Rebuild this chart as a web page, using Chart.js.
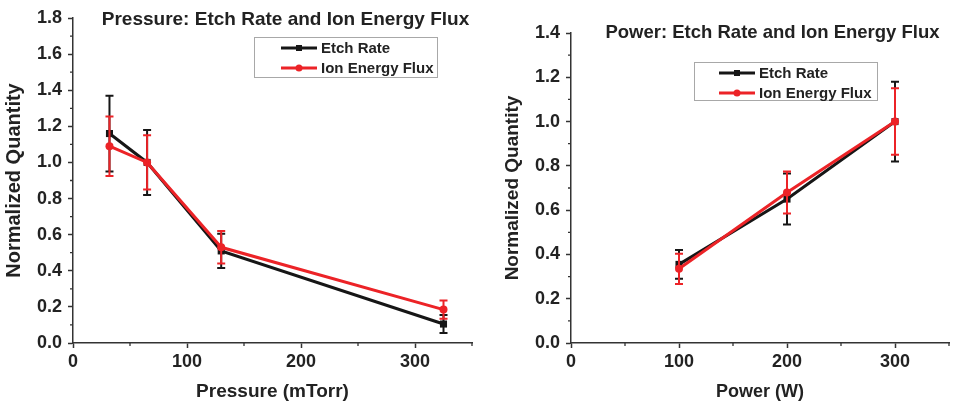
<!DOCTYPE html>
<html>
<head>
<meta charset="utf-8">
<script src="https://cdn.jsdelivr.net/npm/chart.js@4/dist/chart.umd.min.js"></script>
<style>
  html, body { margin: 0; padding: 0; background: #fff; }
  #wrap { position: relative; width: 954px; height: 404px; overflow: hidden; }
  canvas { position: absolute; top: 0; }
  #pressureChart { left: 0; }
  #powerChart { left: 477px; }
</style>
</head>
<body>
<div id="wrap">
  <canvas id="pressureChart" width="477" height="404"></canvas>
  <canvas id="powerChart" width="477" height="404"></canvas>
</div>
<script>
// ---- data: pressure sweep ----
const pressure = [32, 65, 130, 325];
const etchVsPressure = [1.16, 1.00, 0.51, 0.105];
const etchVsPressureErr = [0.21, 0.18, 0.095, 0.05];
const fluxVsPressure = [1.09, 1.00, 0.53, 0.185];
const fluxVsPressureErr = [0.165, 0.15, 0.09, 0.05];

// ---- data: power sweep ----
const power = [100, 200, 300];
const etchVsPower = [0.355, 0.65, 1.00];
const etchVsPowerErr = [0.065, 0.115, 0.18];
const fluxVsPower = [0.335, 0.68, 1.00];
const fluxVsPowerErr = [0.068, 0.095, 0.15];

const seriesNames = ['Etch Rate', 'Ion Energy Flux'];
const pressureTitle = 'Pressure: Etch Rate and Ion Energy Flux';
const powerTitle = 'Power: Etch Rate and Ion Energy Flux';
const pressureAxisTitle = 'Pressure (mTorr)';
const powerAxisTitle = 'Power (W)';
const yAxisTitle = 'Normalized Quantity';

const FONT = '"Liberation Sans", Arial, Helvetica, sans-serif';
const BLACK = '#161616';
const RED = '#ec2327';
const AXIS = '#333333';
const TEXT = '#222222';

const toPoints = (xs, ys) => xs.map((x, i) => ({ x, y: ys[i] }));

// vertical error bars with caps, drawn right after each dataset
const errorBarPlugin = {
  id: 'errorBars',
  afterDatasetDraw(chart, args) {
    const ds = chart.data.datasets[args.index];
    if (!ds.errorBars) return;
    const { ctx } = chart;
    const yScale = chart.scales.y;
    const cap = 4;
    ctx.save();
    ctx.strokeStyle = ds.borderColor;
    ctx.lineWidth = 2;
    args.meta.data.forEach((pt, i) => {
      const v = ds.data[i].y;
      const e = ds.errorBars[i];
      const yTop = yScale.getPixelForValue(v + e);
      const yBot = yScale.getPixelForValue(v - e);
      const x = pt.x;
      ctx.beginPath();
      ctx.moveTo(x, yTop); ctx.lineTo(x, yBot);
      ctx.moveTo(x - cap, yTop); ctx.lineTo(x + cap, yTop);
      ctx.moveTo(x - cap, yBot); ctx.lineTo(x + cap, yBot);
      ctx.stroke();
    });
    ctx.restore();
  }
};

// short minor ticks halfway between the labelled ones
const minorTickPlugin = {
  id: 'minorTicks',
  afterDraw(chart) {
    const { ctx } = chart;
    const len = 3;
    ctx.save();
    ctx.strokeStyle = AXIS;
    ctx.lineWidth = 1.3;
    ['x', 'y'].forEach(id => {
      const s = chart.scales[id];
      const vals = s.ticks.map(t => t.value);
      if (vals.length < 2) return;
      const step = vals[1] - vals[0];
      ctx.beginPath();
      for (let v = vals[0] + step / 2; v <= s.max + 1e-9; v += step) {
        const p = s.getPixelForValue(v);
        if (id === 'x') {
          ctx.moveTo(p, s.top); ctx.lineTo(p, s.top + len);
        } else {
          ctx.moveTo(s.right, p); ctx.lineTo(s.right - len, p);
        }
      }
      ctx.stroke();
    });
    ctx.restore();
  }
};

// panel heading drawn over the plot
const panelTitlePlugin = {
  id: 'panelTitle',
  afterDraw(chart, args, opts) {
    const { ctx } = chart;
    ctx.save();
    ctx.font = `bold ${opts.size}px ${FONT}`;
    ctx.fillStyle = TEXT;
    ctx.textAlign = 'center';
    ctx.textBaseline = 'alphabetic';
    ctx.fillText(opts.text, opts.x, opts.y);
    ctx.restore();
  }
};

// boxed legend sitting inside the plot
const boxLegendPlugin = {
  id: 'boxLegend',
  afterDraw(chart, args, opts) {
    const { ctx } = chart;
    const { x, y, w, h } = opts;
    ctx.save();
    ctx.strokeStyle = '#a8a8a8';
    ctx.lineWidth = 1;
    ctx.strokeRect(x + 0.5, y + 0.5, w, h);
    ctx.font = `bold 15px ${FONT}`;
    ctx.textBaseline = 'middle';
    ctx.textAlign = 'left';
    const rowH = 20;
    const lineX0 = x + opts.inset;
    const lineX1 = lineX0 + 36;
    chart.data.datasets.forEach((ds, i) => {
      const cy = y + 11 + i * rowH;
      ctx.strokeStyle = ds.borderColor;
      ctx.lineWidth = 3;
      ctx.beginPath();
      ctx.moveTo(lineX0, cy); ctx.lineTo(lineX1, cy);
      ctx.stroke();
      ctx.fillStyle = ds.borderColor;
      const mx = (lineX0 + lineX1) / 2;
      if (ds.pointStyle === 'rect') {
        ctx.fillRect(mx - 3, cy - 3, 6, 6);
      } else {
        ctx.beginPath(); ctx.arc(mx, cy, 3.5, 0, Math.PI * 2); ctx.fill();
      }
      ctx.fillStyle = TEXT;
      ctx.fillText(ds.label, lineX1 + 4, cy + 1);
    });
    ctx.restore();
  }
};

function makeDatasets(xs, etch, etchErr, flux, fluxErr) {
  return [
    {
      label: seriesNames[0],
      data: toPoints(xs, etch),
      errorBars: etchErr,
      borderColor: BLACK,
      backgroundColor: BLACK,
      borderWidth: 3,
      pointStyle: 'rect',
      pointRadius: 5,
      pointBorderWidth: 0,
      order: 2
    },
    {
      label: seriesNames[1],
      data: toPoints(xs, flux),
      errorBars: fluxErr,
      borderColor: RED,
      backgroundColor: RED,
      borderWidth: 3,
      pointStyle: 'circle',
      pointRadius: 4,
      pointBorderWidth: 0,
      order: 1
    }
  ];
}

function makeOptions(cfg) {
  return {
    responsive: false,
    animation: false,
    layout: { padding: { left: 0, right: cfg.padRight, top: cfg.padTop, bottom: 0 } },
    plugins: {
      legend: { display: false },
      tooltip: { enabled: false },
      panelTitle: cfg.title,
      boxLegend: cfg.legend
    },
    scales: {
      x: {
        type: 'linear',
        min: 0,
        max: 350,
        ticks: {
          stepSize: 100,
          includeBounds: false,
          padding: 3,
          color: TEXT,
          font: { family: FONT, size: 18, weight: 'bold' }
        },
        grid: { drawOnChartArea: false, drawTicks: true, tickLength: 5, tickWidth: 1.5, tickColor: AXIS },
        border: { display: true, color: AXIS, width: 1.5 },
        title: {
          display: true,
          text: cfg.xTitle,
          color: TEXT,
          font: { family: FONT, size: cfg.xTitleSize, weight: 'bold' },
          padding: { top: 0, bottom: 1 }
        },
        afterFit(scale) { scale.height = 61; }
      },
      y: {
        min: 0,
        max: cfg.yMax,
        ticks: {
          stepSize: 0.2,
          padding: 6,
          color: TEXT,
          font: { family: FONT, size: 18, weight: 'bold' },
          callback: v => Number(v).toFixed(1)
        },
        grid: { drawOnChartArea: false, drawTicks: true, tickLength: 5, tickWidth: 1.5, tickColor: AXIS },
        border: { display: true, color: AXIS, width: 1.5 },
        title: {
          display: true,
          text: yAxisTitle,
          color: TEXT,
          font: { family: FONT, size: cfg.yTitleSize, weight: 'bold' },
          padding: { top: cfg.yTitlePad, bottom: 0 }
        },
        afterFit(scale) { scale.width = cfg.yWidth; }
      }
    }
  };
}

const plugins = [errorBarPlugin, minorTickPlugin, panelTitlePlugin, boxLegendPlugin];

new Chart(document.getElementById('pressureChart'), {
  type: 'line',
  data: { datasets: makeDatasets(pressure, etchVsPressure, etchVsPressureErr, fluxVsPressure, fluxVsPressureErr) },
  options: makeOptions({
    padRight: 5, padTop: 18, yMax: 1.8, yWidth: 73,
    xTitle: pressureAxisTitle, xTitleSize: 19,
    yTitleSize: 20, yTitlePad: 2,
    title: { text: pressureTitle, x: 285.5, y: 24.5, size: 19 },
    legend: { x: 254, y: 37, w: 183, h: 40, inset: 27 }
  }),
  plugins
});

new Chart(document.getElementById('powerChart'), {
  type: 'line',
  data: { datasets: makeDatasets(power, etchVsPower, etchVsPowerErr, fluxVsPower, fluxVsPowerErr) },
  options: makeOptions({
    padRight: 1, padTop: 33, yMax: 1.4, yWidth: 94,
    xTitle: powerAxisTitle, xTitleSize: 18,
    yTitleSize: 19, yTitlePad: 24.6,
    title: { text: powerTitle, x: 295.5, y: 37.5, size: 18.5 },
    legend: { x: 217, y: 62, w: 183, h: 38, inset: 25 }
  }),
  plugins
});
</script>
</body>
</html>
